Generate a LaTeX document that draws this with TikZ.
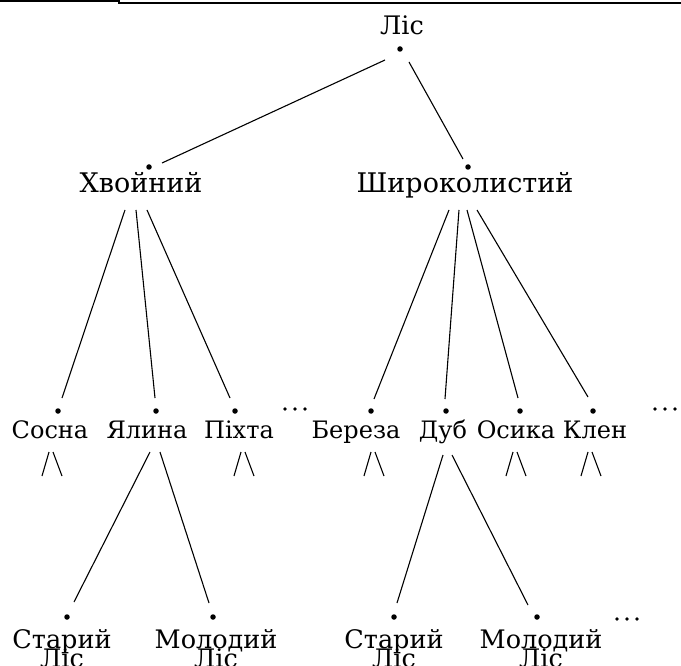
\documentclass[tikz,border=0pt]{standalone}
\usepackage{fontspec}
\setmainfont{DejaVu Serif}
\begin{document}
\begin{tikzpicture}[x=1pt,y=-1pt,
  lbl/.style={inner sep=0pt, anchor=base, font=\fontsize{25.5}{20}\selectfont},
  lblA/.style={lbl, font=\fontsize{27}{20}\selectfont},
  lblB/.style={lbl, font=\fontsize{24}{20}\selectfont},
  pt/.style={circle, fill=black, inner sep=0pt, minimum size=5.5pt},
  edge/.style={line width=1.1pt},
  ell/.style={circle, fill=black, inner sep=0pt, minimum size=3.6pt}]
\useasboundingbox (0,0) rectangle (681,666);
\fill[white] (0,0) rectangle (681,666);
% top border
\draw[line width=2pt] (0,1) -- (119,1) -- (119,3) -- (681,3);
% level 0
\node[lbl] (lis) at (402,35) {Ліс};
\node[pt] (d0) at (400,49) {};
% level 1
\node[lblA] (hv) at (141,193) {Хвойний};
\node[pt] (dhv) at (149,167) {};
\node[lblA] (sh) at (465,193) {Широколистий};
\node[pt] (dsh) at (468,167) {};
% level 2
\node[lblB] (sos) at (50,438) {Сосна};
\node[pt] (dsos) at (58,411) {};
\node[lblB] (yal) at (147,438) {Ялина};
\node[pt] (dyal) at (156,411) {};
\node[lblB] (pih) at (239,438) {Піхта};
\node[pt] (dpih) at (235,411) {};
\node[lblB] (ber) at (356,438) {Береза};
\node[pt] (dber) at (371,411) {};
\node[lblB] (dub) at (443,438) {Дуб};
\node[pt] (ddub) at (446,411) {};
\node[lblB] (osy) at (516,438) {Осика};
\node[pt] (dosy) at (520,411) {};
\node[lblB] (kle) at (595,438) {Клен};
\node[pt] (dkle) at (593,411) {};
% ellipses
\foreach \n/\x/\y in {ea/285/409, eb/295/409, ec/305/409,
                      ed/655/409, ee/665/409, ef/675/409,
                      eg/617/619, eh/627/619, ei/637/619}
  \node[ell] (\n) at (\x,\y) {};
% level 3
\node[lbl] (st1) at (62,648) {Старий};
\node[lbl] (st1b) at (62,667) {Ліс};
\node[pt] (dst1) at (67,617) {};
\node[lbl] (mo1) at (216,648) {Молодий};
\node[lbl] (mo1b) at (216,667) {Ліс};
\node[pt] (dmo1) at (213,617) {};
\node[lbl] (st2) at (394,648) {Старий};
\node[lbl] (st2b) at (394,667) {Ліс};
\node[pt] (dst2) at (394,617) {};
\node[lbl] (mo2) at (541,648) {Молодий};
\node[lbl] (mo2b) at (541,667) {Ліс};
\node[pt] (dmo2) at (537,617) {};
% connector end points
\coordinate (a1) at (385,60);  \coordinate (a2) at (162,163);
\coordinate (b1) at (409,62);  \coordinate (b2) at (463,159);
\coordinate (c1) at (125,210); \coordinate (c2) at (62,398);
\coordinate (e1) at (136,210); \coordinate (e2) at (155,398);
\coordinate (f1) at (147,210); \coordinate (f2) at (230,398);
\coordinate (g1) at (449,210); \coordinate (g2) at (374,399);
\coordinate (h1) at (459,210); \coordinate (h2) at (445,399);
\coordinate (i1) at (467,210); \coordinate (i2) at (518,398);
\coordinate (j1) at (477,210); \coordinate (j2) at (588,397);
\coordinate (k1) at (150,452); \coordinate (k2) at (74,602);
\coordinate (l1) at (160,452); \coordinate (l2) at (209,603);
\coordinate (m1) at (443,455); \coordinate (m2) at (397,603);
\coordinate (n1) at (452,455); \coordinate (n2) at (528,605);
\foreach \s/\t in {a1/a2,b1/b2,c1/c2,e1/e2,f1/f2,g1/g2,h1/h2,i1/i2,j1/j2,k1/k2,l1/l2,m1/m2,n1/n2}
  \draw[edge] (\s) -- (\t);
% small /\ marks
\foreach \c in {52,244,374,516,591}{
  \draw[edge] (\c-10,476) -- (\c-3,452);
  \draw[edge] (\c+1,452) -- (\c+10,476);
}
\end{tikzpicture}
\end{document}
